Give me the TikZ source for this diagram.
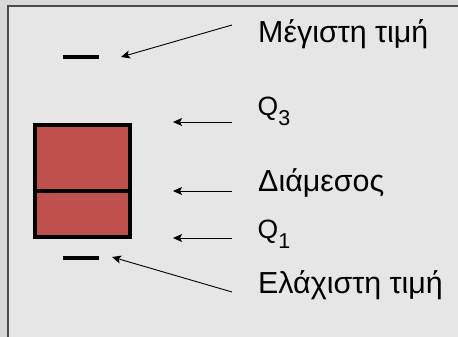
\documentclass[tikz,border=0pt]{standalone}
\usepackage{fontspec}
\setmainfont{Liberation Sans}
\usetikzlibrary{arrows.meta}
\definecolor{outerbg}{HTML}{D9D9D9}
\definecolor{innerbg}{HTML}{E6E6E6}
\definecolor{framecol}{HTML}{4A4A4A}
\definecolor{boxred}{HTML}{C0504D}
\tikzset{
  lbl/.style={anchor=base west, inner sep=0pt, font=\fontsize{30.4}{33}\selectfont},
  qlbl/.style={anchor=base west, inner sep=0pt, font=\fontsize{26.5}{30}\selectfont},
  ptr/.style={line width=0.9pt, draw=black, -{Stealth[length=9pt,width=8pt,inset=2pt]}},
  whisk/.style={line width=4pt, draw=black},
  boxshape/.style={draw=black, line width=4pt, fill=boxred, inner sep=0pt, minimum width=95pt, minimum height=112pt}
}
\newcommand{\qsub}[2]{Q\raisebox{-10pt}{\fontsize{21.5}{24}\selectfont #2}}
\begin{document}
\begin{tikzpicture}[x=1pt,y=-1pt]
\fill[outerbg] (0,0) rectangle (458,337);
\useasboundingbox (0,0) rectangle (458,337);
\fill[innerbg] (8,6) rectangle (458,337);
\draw[framecol, line width=1.5pt] (8,337) -- (8,6) -- (458,6);
% box
\node[boxshape] (box) at (82.3,181) {};
\coordinate (medy) at (0,191);
\draw[line width=4pt] (box.west |- medy) -- (box.east |- medy);
% whiskers
\coordinate (maxL) at (63,57);
\coordinate (maxR) at (99,57);
\coordinate (minL) at (63,258);
\coordinate (minR) at (99,258);
\draw[whisk] (maxL) -- (maxR);
\draw[whisk] (minL) -- (minR);
% labels
\node[lbl] (tmax) at (258,43) {Μέγιστη τιμή};
\node[qlbl] (tq3) at (257.5,115.5) {\qsub{Q}{3}};
\node[lbl] (tmed) at (258,191) {Διάμεσος};
\node[qlbl] (tq1) at (257.5,238) {\qsub{Q}{1}};
\node[lbl] (tmin) at (258,293.5) {Ελάχιστη τιμή};
% arrow endpoints
\coordinate (amaxS) at (232,25);
\coordinate (amaxE) at (121,57);
\coordinate (aq3S) at (232,122);
\coordinate (aq3E) at (173,122);
\coordinate (amedS) at (232,191);
\coordinate (amedE) at (173,191);
\coordinate (aq1S) at (232,238);
\coordinate (aq1E) at (173,238);
\coordinate (aminS) at (232,292);
\coordinate (aminE) at (112,257);
\draw[ptr] (amaxS) -- (amaxE);
\draw[ptr] (aq3S) -- (aq3E);
\draw[ptr] (amedS) -- (amedE);
\draw[ptr] (aq1S) -- (aq1E);
\draw[ptr] (aminS) -- (aminE);
\end{tikzpicture}
\end{document}
